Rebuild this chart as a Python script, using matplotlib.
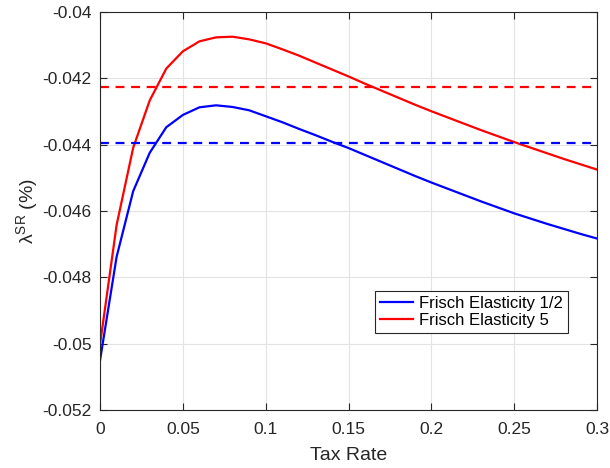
import numpy as np
import matplotlib.pyplot as plt
from matplotlib.ticker import FuncFormatter

plt.rcParams['font.family'] = ['Liberation Sans', 'DejaVu Sans']
plt.rcParams['mathtext.fontset'] = 'custom'
plt.rcParams['mathtext.rm'] = 'Liberation Sans'
plt.rcParams['mathtext.it'] = 'Liberation Sans:italic'

# Tax rate grid
tax_rate = [0.00, 0.01, 0.02, 0.03, 0.04, 0.05, 0.06, 0.07, 0.08, 0.09, 0.10,
            0.11, 0.12, 0.13, 0.14, 0.15, 0.16, 0.17, 0.18, 0.19, 0.20,
            0.21, 0.22, 0.23, 0.24, 0.25, 0.26, 0.27, 0.28, 0.29, 0.30]

# Frisch elasticity 1/2
lam_half = [-0.05050, -0.04738, -0.04540, -0.04424, -0.04347, -0.04310, -0.04287,
            -0.04281, -0.04286, -0.04296, -0.04314, -0.04332, -0.04352, -0.04371,
            -0.04391, -0.04410, -0.04431, -0.04452, -0.04473, -0.04494, -0.04514,
            -0.04533, -0.04552, -0.04571, -0.04589, -0.04607, -0.04623, -0.04639,
            -0.04654, -0.04669, -0.04683]

# Frisch elasticity 5
lam_five = [-0.05002, -0.04642, -0.04409, -0.04266, -0.04170, -0.04118, -0.04088,
            -0.04076, -0.04074, -0.04082, -0.04094, -0.04112, -0.04131, -0.04152,
            -0.04173, -0.04194, -0.04216, -0.04237, -0.04258, -0.04279, -0.04299,
            -0.04318, -0.04337, -0.04356, -0.04374, -0.04392, -0.04409, -0.04426,
            -0.04443, -0.04459, -0.04475]

# horizontal reference levels
ref_half = -0.04394
ref_five = -0.04227

fig = plt.figure(figsize=(6.1, 4.68), dpi=100)
ax = fig.add_axes([0.164, 0.124, 0.815, 0.850])

ax.plot(tax_rate, lam_half, color='#0000ff', lw=1.6, label='Frisch Elasticity 1/2')
ax.plot(tax_rate, lam_five, color='#ff0000', lw=1.6, label='Frisch Elasticity 5')
ax.axhline(ref_half, color='#0000ff', lw=1.6, ls=(0, (4, 3)))
ax.axhline(ref_five, color='#ff0000', lw=1.6, ls=(0, (4, 3)))

ax.set_xlim(0, 0.3)
ax.set_ylim(-0.052, -0.04)
ax.set_xticks(np.arange(0, 0.301, 0.05))
ax.set_yticks(np.arange(-0.052, -0.0399, 0.002))
ax.xaxis.set_major_formatter(FuncFormatter(lambda v, p: '%g' % round(v, 4)))
ax.yaxis.set_major_formatter(FuncFormatter(lambda v, p: '%g' % round(v, 4)))

ax.grid(True, color='#e3e3e3', lw=0.8)
ax.set_axisbelow(True)
ax.tick_params(direction='in', length=5, width=0.8, labelsize=12.5, colors='#262626',
               top=True, right=True, pad=6)
ax.tick_params(axis='x', pad=9)
for s in ax.spines.values():
    s.set_color('#262626')
    s.set_linewidth(0.8)

ax.set_xlabel('Tax Rate', fontsize=14, color='#262626', labelpad=7)
ax.set_ylabel(r'$\mathregular{λ^{SR}}$ (%)', fontsize=14, color='#262626', labelpad=2)

leg = ax.legend(loc='lower left', bbox_to_anchor=(0.553, 0.193), fontsize=12,
                fancybox=False, framealpha=1, edgecolor='#262626',
                handlelength=2.0, handletextpad=0.35, borderpad=0.3,
                labelspacing=0.15, borderaxespad=0)
leg.get_frame().set_linewidth(0.8)

fig.savefig('out.png', dpi=100)
